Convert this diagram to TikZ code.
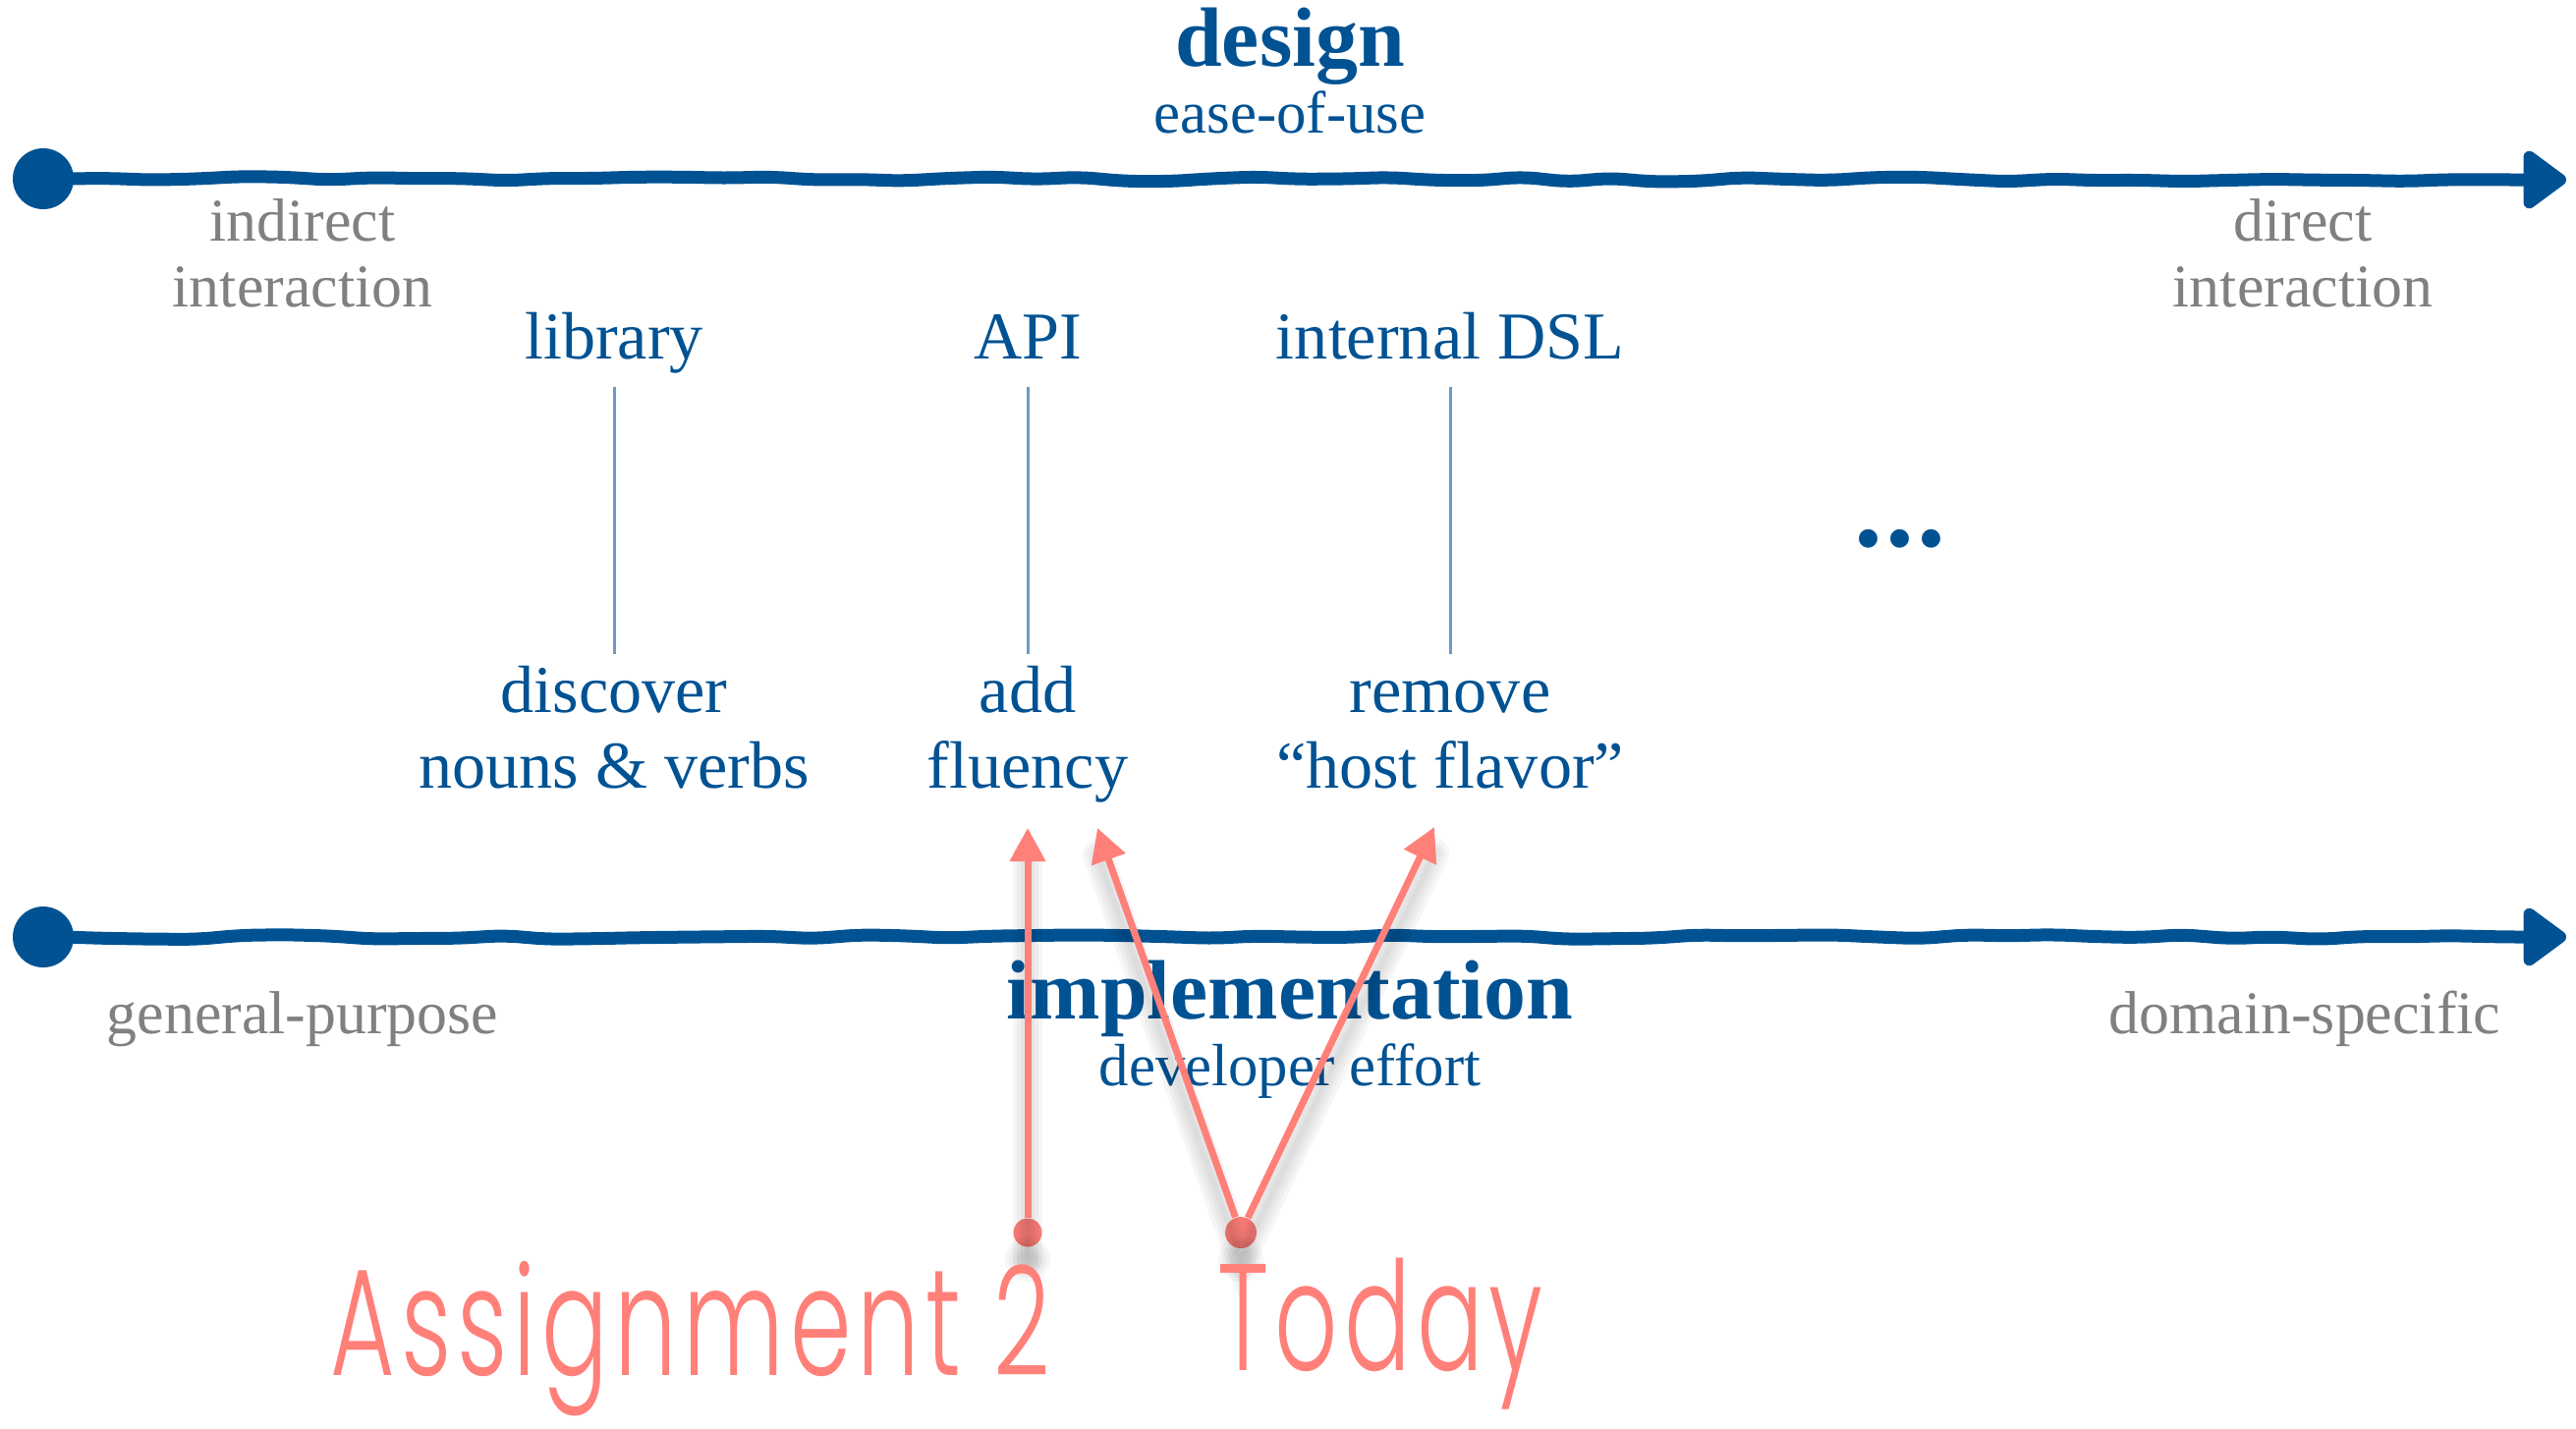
\documentclass[tikz,border=0pt]{standalone}
\usepackage{fontspec}
\usepackage{graphicx}
\setmainfont{Liberation Serif}
\newfontfamily\handfont[LetterSpace=6]{Poppins Light}
\usepackage{tikz}
\usetikzlibrary{arrows.meta, decorations.pathmorphing}
\definecolor{dblue}{RGB}{0,82,147}
\definecolor{stemblue}{RGB}{108,154,198}
\definecolor{tgray}{RGB}{128,128,128}
\definecolor{salmon}{RGB}{255,127,121}
\tikzstyle{titletext} = [text=dblue, inner sep=0pt, font=\bfseries\fontsize{24.4}{29}\selectfont]
\tikzstyle{subtext} = [text=dblue, inner sep=0pt, font=\fontsize{17.3}{21}\selectfont]
\tikzstyle{graytext} = [text=tgray, inner sep=0pt, font=\fontsize{17.6}{21}\selectfont]
\tikzstyle{bluetext} = [text=dblue, inner sep=0pt, text height=0.58cm, text depth=0.28cm, font=\fontsize{19.4}{23}\selectfont]
\tikzstyle{handtext} = [text=salmon, inner sep=0pt, font=\handfont\fontsize{44}{50}\selectfont]
\tikzstyle{axisdot} = [circle, fill=dblue, inner sep=0pt, minimum size=0.62cm]
\tikzstyle{axis} = [draw=dblue, line width=0.13cm, rounded corners=0.15cm, decorate,
decoration={random steps, segment length=0.45cm, amplitude=0.025cm, pre length=0.2cm, post length=0.6cm},
-{Triangle[length=0.48cm, width=0.67cm, round]}]
\tikzstyle{stem} = [draw=stemblue, line width=0.03cm]
\tikzstyle{reddot} = [circle, fill=salmon, inner sep=0pt, minimum size=0.29cm]
\tikzstyle{redarrow} = [draw=salmon, line width=0.07cm, -{Triangle[length=0.34cm, width=0.35cm]}]
\tikzstyle{softshadow} = [draw=black, opacity=0.035, line cap=round]

\begin{document}
\begin{tikzpicture}
\pgfmathsetseed{7}
\useasboundingbox (0,0) rectangle (26.22,-14.54);

% design axis
\node (design) [titletext, anchor=base] at (13.13,-0.67) {design};
\node (ease) [subtext, anchor=base] at (13.13,-1.35) {ease-of-use};
\node (topstart) [axisdot] at (0.44,-1.82) {};
\coordinate (topend) at (26.12,-1.83);
\draw [axis] (topstart.center) -- (topend);
\node (indirect) [graytext, anchor=base] at (3.08,-2.45) {indirect};
\node (indirect2) [graytext, anchor=base] at (3.08,-3.12) {interaction};
\node (direct) [graytext, anchor=base] at (23.44,-2.45) {direct};
\node (direct2) [graytext, anchor=base] at (23.44,-3.12) {interaction};

% the three steps
\node (library) [bluetext, anchor=base] at (6.25,-3.65) {library};
\node (api) [bluetext, anchor=base] at (10.46,-3.65) {API};
\node (dsl) [bluetext, anchor=base] at (14.76,-3.65) {internal DSL};
\node (discover) [bluetext, anchor=base] at (6.25,-7.25) {discover};
\node (nouns) [bluetext, anchor=base] at (6.25,-8.02) {nouns \& verbs};
\node (add) [bluetext, anchor=base] at (10.46,-7.25) {add};
\node (fluency) [bluetext, anchor=base] at (10.46,-8.02) {fluency};
\node (remove) [bluetext, anchor=base] at (14.76,-7.25) {remove};
\node (host) [bluetext, anchor=base] at (14.76,-8.02) {“host flavor”};
\node (more) [text=dblue, inner sep=0pt, anchor=base, font=\bfseries\fontsize{33}{33}\selectfont] at (19.34,-5.56) {.\kern0.9pt.\kern0.9pt.};

\draw [stem] (library) -- (discover);
\draw [stem] (api) -- (add);
\draw [stem] (dsl) -- (remove);

% implementation axis
\node (botstart) [axisdot] at (0.44,-9.54) {};
\coordinate (botend) at (26.12,-9.54);
\draw [axis] (botstart.center) -- (botend);
\node (general) [graytext, anchor=base] at (3.08,-10.52) {general-purpose};
\node (specific) [graytext, anchor=base] at (23.46,-10.52) {domain-specific};
\node (impl) [titletext, anchor=base] at (13.13,-10.37) {implementation};
\node (effort) [subtext, anchor=base] at (13.13,-11.05) {developer effort};

% where we are
\node (a2dot) [reddot] at (10.46,-12.55) {};
\node (todaydot) [reddot, minimum size=0.32cm] at (12.63,-12.55) {};
\coordinate (tipapi) at (10.46,-8.43);
\coordinate (tipfluency) at (11.17,-8.43);
\coordinate (tiphost) at (14.60,-8.42);

\foreach \w in {0.06,0.14,0.22,0.30} {
  \draw [softshadow, line width=\w cm] ([yshift=-0.27cm]a2dot.center) -- ([yshift=-0.27cm]tipapi);
  \draw [softshadow, line width=\w cm] ([yshift=-0.27cm]tipfluency) -- ([yshift=-0.27cm]todaydot.center) -- ([yshift=-0.27cm]tiphost);
  \fill [black, opacity=0.035] ([yshift=-0.27cm]a2dot.center) circle (0.08+\w/2);
  \fill [black, opacity=0.035] ([yshift=-0.27cm]todaydot.center) circle (0.08+\w/2);
}

\draw [redarrow] (a2dot) -- (tipapi);
\draw [redarrow] (todaydot) -- (tipfluency);
\draw [redarrow] (todaydot) -- (tiphost);

\node (assign) [handtext, anchor=base] at (7.03,-14.00) {\scalebox{0.65}[1]{Assignment 2}};
\node (today) [handtext, anchor=base] at (14.05,-13.95) {\scalebox{0.65}[1]{Today}};

\end{tikzpicture}
\end{document}
